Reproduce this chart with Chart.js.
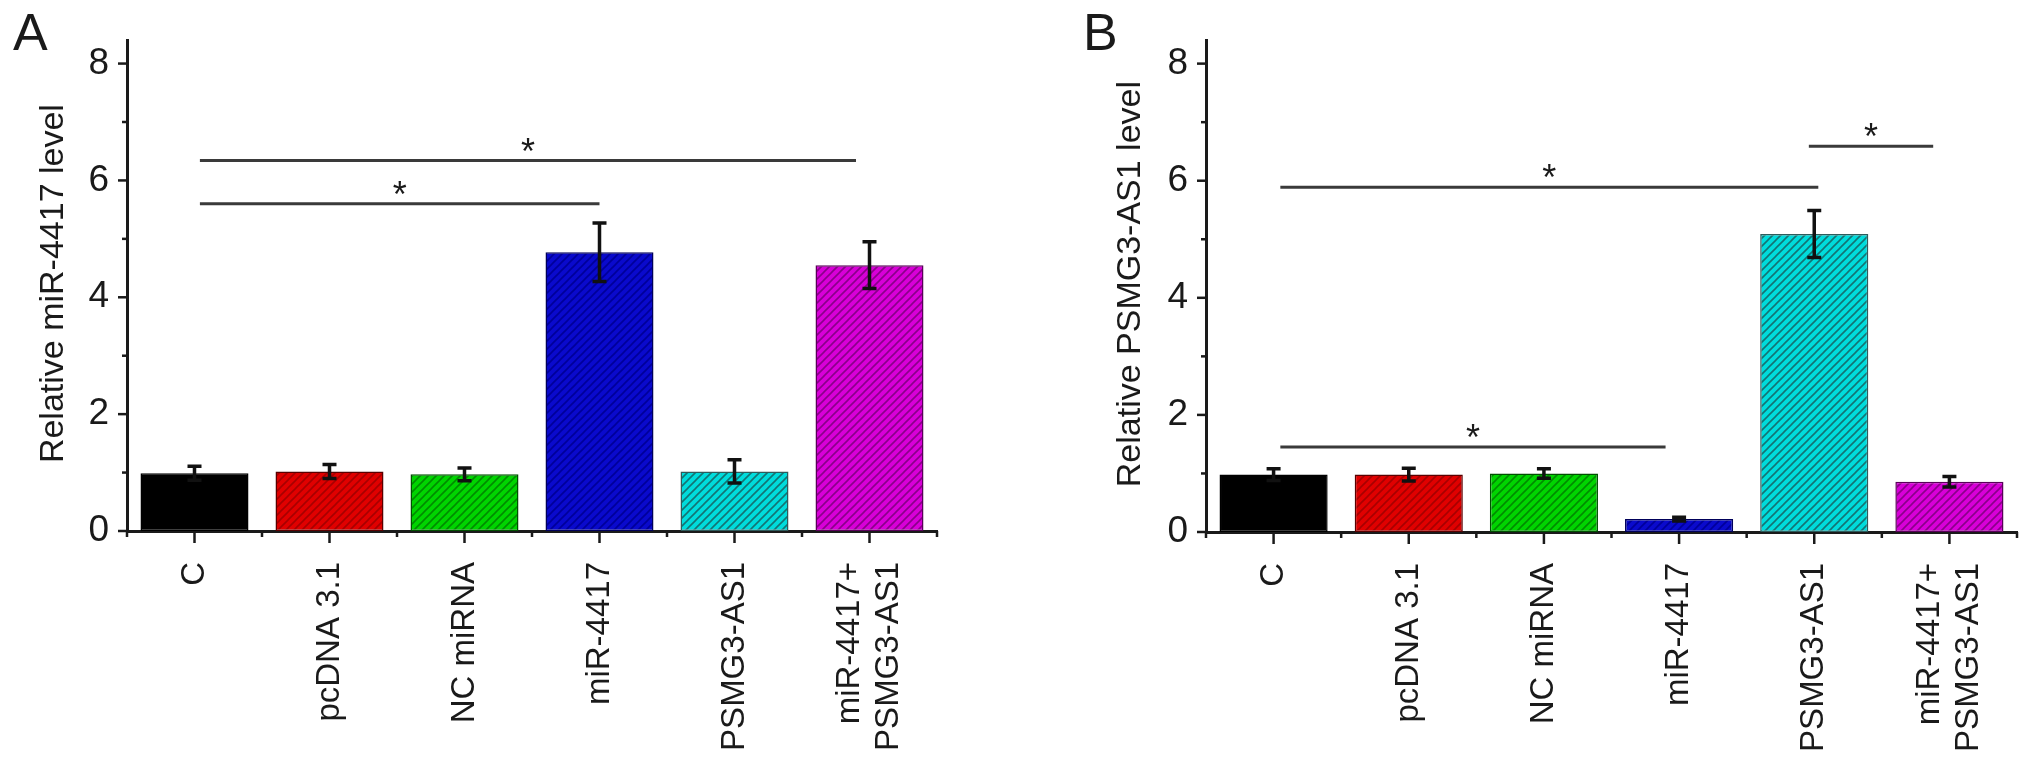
<!DOCTYPE html>
<html>
<head>
<meta charset="utf-8">
<script src="https://cdn.jsdelivr.net/npm/chart.js@4.4.0/dist/chart.umd.min.js"></script>
<style>
  html, body { margin: 0; padding: 0; background: #fff; }
  #wrap { position: relative; width: 2032px; height: 767px; overflow: hidden; }
  canvas { position: absolute; top: 0; }
</style>
</head>
<body>
<div id="wrap">
  <canvas id="chartA" width="1016" height="767" style="left:0"></canvas>
  <canvas id="chartB" width="1016" height="767" style="left:1016px"></canvas>
</div>
<script>
// categories and values
const categories = ['C', 'pcDNA 3.1', 'NC miRNA', 'miR-4417', 'PSMG3-AS1', ['miR-4417+', 'PSMG3-AS1']];
const valuesA = [0.99, 1.02, 0.97, 4.77, 1.02, 4.55];
const errorsA = [0.12, 0.12, 0.11, 0.50, 0.20, 0.40];
const valuesB = [0.98, 0.98, 1.00, 0.22, 5.09, 0.86];
const errorsB = [0.10, 0.11, 0.08, 0.03, 0.40, 0.09];
const yTicks = [0, 2, 4, 6, 8];
// significance brackets: [from category, to category, y value]
const sigA = [[0.04, 3.0, 5.6], [0.04, 4.9, 6.34]];
const sigB = [[0.05, 2.9, 1.45], [0.05, 4.03, 5.89], [3.96, 4.88, 6.59]];

const FONT = '"Liberation Sans", Arial, Helvetica, sans-serif';
const INK = '#1a1a1a';

const barFills = ['#000000', '#e00000', '#00d400', '#0a0acc', '#00dcdc', '#d800d8'];
const hatchLines = [null, '#a80000', '#008c00', '#00009a', '#137474', '#8a008a'];
const barBorders = ['#000000', '#5a0000', '#005000', '#00005a', '#2d5c5c', '#5a005a'];

function hatch(fill, line) {
  if (!line) return fill;
  const s = 8;
  const c = document.createElement('canvas');
  c.width = c.height = s;
  const g = c.getContext('2d');
  g.fillStyle = fill;
  g.fillRect(0, 0, s, s);
  g.strokeStyle = line;
  g.lineWidth = 1.6;
  g.beginPath();
  g.moveTo(-1, s + 1); g.lineTo(s + 1, -1);
  g.moveTo(-1, 1); g.lineTo(1, -1);
  g.moveTo(s - 1, s + 1); g.lineTo(s + 1, s - 1);
  g.stroke();
  return g.createPattern(c, 'repeat');
}

const decor = {
  id: 'decor',
  afterDatasetsDraw(chart, args, o) {
    const ctx = chart.ctx, xs = chart.scales.x, ys = chart.scales.y;
    ctx.save();
    ctx.strokeStyle = '#111';
    ctx.lineWidth = 3.5;
    o.values.forEach((v, i) => {
      const px = xs.getPixelForValue(i);
      const top = ys.getPixelForValue(v + o.errors[i]);
      const bot = ys.getPixelForValue(v - o.errors[i]);
      ctx.beginPath();
      ctx.moveTo(px, top); ctx.lineTo(px, bot);
      ctx.moveTo(px - 7, top); ctx.lineTo(px + 7, top);
      ctx.moveTo(px - 7, bot); ctx.lineTo(px + 7, bot);
      ctx.stroke();
    });
    ctx.restore();
  },
  afterDraw(chart, args, o) {
    const ctx = chart.ctx, xs = chart.scales.x, ys = chart.scales.y;
    const area = chart.chartArea;
    ctx.save();
    ctx.strokeStyle = '#1a1a1a';
    ctx.lineWidth = 2.5;
    // y ticks: labelled ones long, odd ones short
    for (let v = 0; v <= 8; v++) {
      const py = ys.getPixelForValue(v);
      ctx.beginPath();
      ctx.moveTo(area.left - (v % 2 === 0 ? 9 : 5), py);
      ctx.lineTo(area.left, py);
      ctx.stroke();
    }
    // x ticks: long at categories, short at boundaries
    categories.forEach((c, i) => {
      const px = xs.getPixelForValue(i);
      ctx.beginPath();
      ctx.moveTo(px, area.bottom); ctx.lineTo(px, area.bottom + 12);
      ctx.stroke();
    });
    for (let i = 0; i <= categories.length; i++) {
      const px = xs.getPixelForValue(i - 0.5);
      ctx.beginPath();
      ctx.moveTo(px, area.bottom); ctx.lineTo(px, area.bottom + 6);
      ctx.stroke();
    }
    // category labels, rotated
    ctx.fillStyle = INK;
    ctx.font = '33px ' + FONT;
    categories.forEach((lab, i) => {
      const lines = Array.isArray(lab) ? lab : [lab];
      const px = xs.getPixelForValue(i);
      lines.forEach((t, j) => {
        const off = (j - (lines.length - 1) / 2) * 39;
        ctx.save();
        ctx.translate(px + off, area.bottom + 31);
        ctx.rotate(-Math.PI / 2);
        ctx.textAlign = 'right';
        ctx.textBaseline = 'middle';
        ctx.fillText(t, 0, 0);
        ctx.restore();
      });
    });
    // axis title
    ctx.font = '34px ' + FONT;
    ctx.save();
    ctx.translate(o.titleX, (area.top + area.bottom) / 2 - 2);
    ctx.rotate(-Math.PI / 2);
    ctx.textAlign = 'center';
    ctx.textBaseline = 'alphabetic';
    ctx.fillText(o.title, 0, 0);
    ctx.restore();
    // panel letter
    ctx.font = '52px ' + FONT;
    ctx.textAlign = 'left';
    ctx.fillText(o.letter, o.letterX, 50);
    // significance lines and stars
    ctx.strokeStyle = '#3a3a3a';
    ctx.lineWidth = 3;
    ctx.font = '36px ' + FONT;
    ctx.textAlign = 'center';
    o.sig.forEach(([a, b, v]) => {
      const x1 = xs.getPixelForValue(a), x2 = xs.getPixelForValue(b);
      const py = ys.getPixelForValue(v);
      ctx.beginPath();
      ctx.moveTo(x1, py); ctx.lineTo(x2, py);
      ctx.stroke();
      ctx.fillText('*', (x1 + x2) / 2, py + 3);
    });
    ctx.restore();
  }
};

function makeChart(id, values, errors, sig, opts) {
  return new Chart(document.getElementById(id), {
    type: 'bar',
    data: {
      labels: categories.map(c => Array.isArray(c) ? c.join(' ') : c),
      datasets: [{
        data: values,
        backgroundColor: barFills.map((f, i) => hatch(f, hatchLines[i])),
        borderColor: barBorders,
        borderWidth: 1.5,
        borderSkipped: false,
        barPercentage: 0.8,
        categoryPercentage: 1.0
      }]
    },
    options: {
      responsive: false,
      animation: false,
      devicePixelRatio: 1,
      layout: { padding: { left: 0, top: 32, right: opts.padRight, bottom: 0 } },
      plugins: {
        legend: { display: false },
        tooltip: { enabled: false },
        decor: { values, errors, sig, title: opts.title, titleX: opts.titleX, letter: opts.letter, letterX: opts.letterX }
      },
      scales: {
        x: {
          offset: true,
          grid: { display: false, drawTicks: false },
          border: { display: true, color: '#1a1a1a', width: 3 },
          ticks: { display: false },
          afterFit: s => { s.height = opts.xHeight; }
        },
        y: {
          min: 0,
          max: 8.4,
          grid: { display: false, drawTicks: false },
          border: { display: true, color: '#1a1a1a', width: 3 },
          afterBuildTicks: s => { s.ticks = yTicks.map(v => ({ value: v })); },
          ticks: {
            padding: 18,
            color: INK,
            font: { family: FONT, size: 37 },
            callback: v => String(v)
          },
          afterFit: s => { s.width = opts.yWidth; }
        }
      }
    },
    plugins: [decor]
  });
}

makeChart('chartA', valuesA, errorsA, sigA, {
  title: 'Relative miR-4417 level', titleX: 63, letter: 'A', letterX: 13,
  padRight: 79, yWidth: 127, xHeight: 236
});
makeChart('chartB', valuesB, errorsB, sigB, {
  title: 'Relative PSMG3-AS1 level', titleX: 124, letter: 'B', letterX: 67,
  padRight: 15, yWidth: 190, xHeight: 235
});
</script>
</body>
</html>
